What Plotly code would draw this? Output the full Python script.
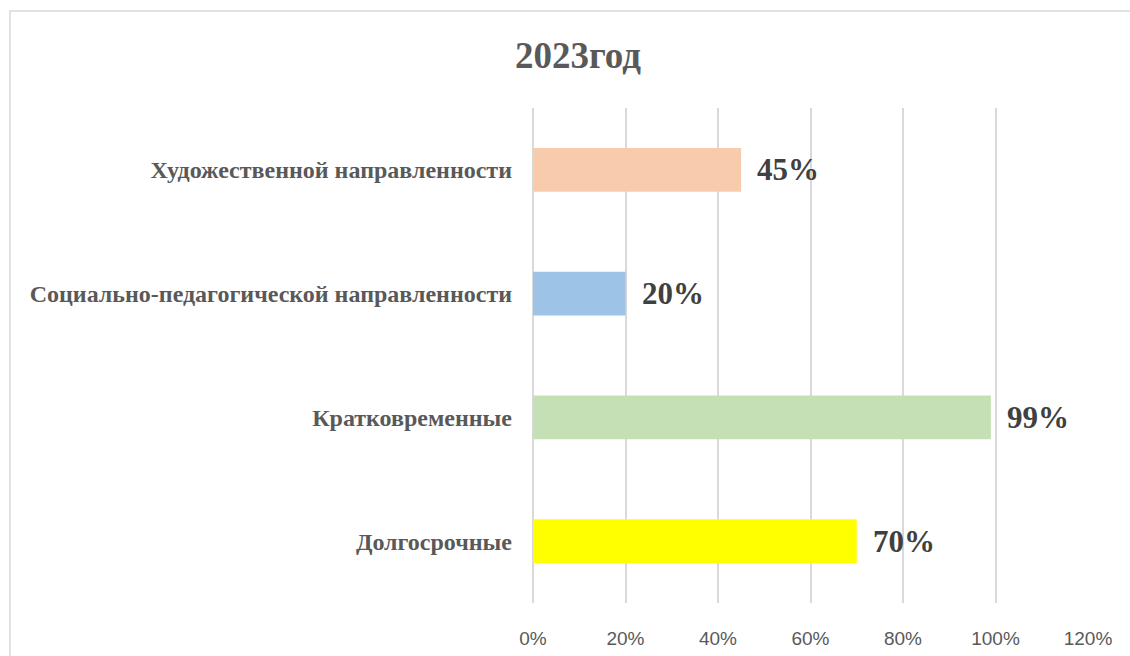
import plotly.graph_objects as go

categories = ["Долгосрочные", "Кратковременные",
              "Социально-педагогической направленности",
              "Художественной направленности"]
values = [0.70, 0.99, 0.20, 0.45]
bar_colors = ["#FFFF00", "#C5E0B4", "#9DC3E6", "#F8CBAD"]
tick_vals = [0, 0.2, 0.4, 0.6, 0.8, 1.0, 1.2]
tick_text = ["0%", "20%", "40%", "60%", "80%", "100%", "120%"]
title_text = "2023год"

serif = "Liberation Serif, Times New Roman, serif"

fig = go.Figure(go.Bar(
    x=values, y=categories, orientation="h",
    marker=dict(color=bar_colors, line=dict(width=0)),
    width=0.355, hoverinfo="skip",
))

for v, c in zip(values, categories):
    fig.add_annotation(
        x=v, y=c, xref="x", yref="y", text=f"{round(v*100)}%",
        showarrow=False, xanchor="left", yanchor="middle", xshift=14,
        font=dict(family=serif, size=31, color="#404040", weight="bold"),
    )

L, R, T, B = 533, 42, 108, 53
W, H = 1130, 656
pw, ph = W - L - R, H - T - B
fig.add_shape(
    type="rect", xref="paper", yref="paper",
    x0=(10 - L) / pw, x1=(W + 20 - L) / pw,
    y0=-(B + 20) / ph, y1=(H - B - 11) / ph,
    line=dict(color="#D9D9D9", width=1.5), fillcolor="rgba(0,0,0,0)", layer="below",
)

fig.update_layout(
    width=W, height=H,
    margin=dict(l=L, r=R, t=T, b=B),
    paper_bgcolor="white", plot_bgcolor="white",
    showlegend=False,
    title=dict(
        text=title_text, x=578 / W, xref="container", xanchor="center",
        y=1 - 55 / H, yref="container", yanchor="middle",
        font=dict(family=serif, size=37, color="#595959", weight="bold"),
    ),
    xaxis=dict(
        range=[0, 1.2], tickvals=tick_vals, ticktext=tick_text,
        showgrid=True, gridcolor="#D9D9D9", gridwidth=1.5,
        zeroline=True, zerolinecolor="#D9D9D9", zerolinewidth=1.5,
        showline=False, ticks="", ticklabelstandoff=22,
        tickfont=dict(family="Liberation Sans, Arial, sans-serif", size=19, color="#595959"),
        fixedrange=True, automargin=False,
    ),
    yaxis=dict(
        categoryorder="array", categoryarray=categories,
        range=[-0.5, 3.5],
        showgrid=False, zeroline=False, showline=False, ticks="",
        ticklabelstandoff=20,
        tickfont=dict(family=serif, size=24, color="#595959", weight="bold"),
        fixedrange=True, automargin=False,
    ),
)

fig.write_html(
    "out.html",
    config={"displayModeBar": False},
    post_script="document.body.style.margin='0';document.body.style.overflow='hidden';",
)
